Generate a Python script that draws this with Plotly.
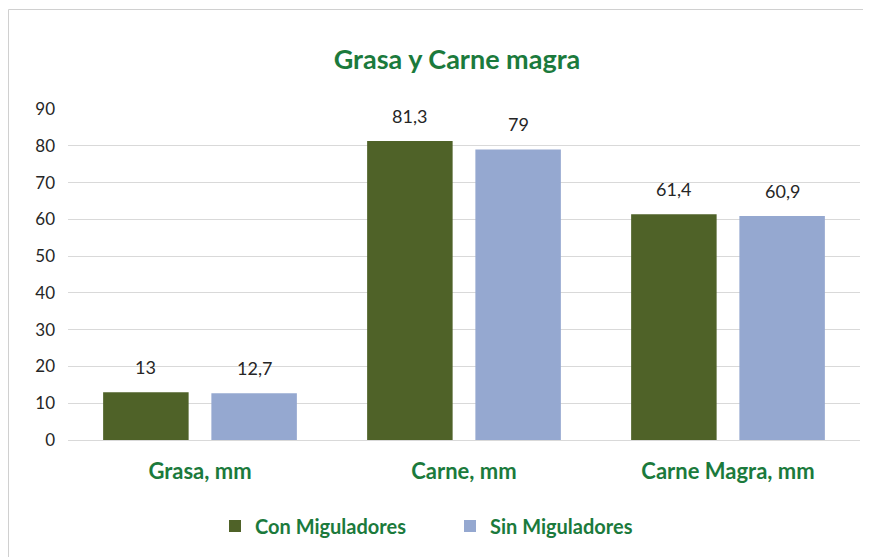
import plotly.graph_objects as go

categories = ["Grasa, mm", "Carne, mm", "Carne Magra, mm"]
series_names = ["Con Miguladores", "Sin Miguladores"]
con_values = [13, 81.3, 61.4]
sin_values = [12.7, 79, 60.9]
y_ticks = [0, 10, 20, 30, 40, 50, 60, 70, 80, 90]

GREEN = "#4F6228"
BLUE = "#95A8D0"
TITLE_GREEN = "#1B7A3C"
FONT = "Lato"

def fmt(v):
    s = ("%g" % v)
    return s.replace(".", ",")

# page has an 8px body margin; figure coordinates = screen - 8
OFF = 8
W, H = 871 - OFF, 557 - OFF
ml, mr, mt, mb = 68 - OFF, 11, 109 - OFF, 117
pw = W - ml - mr
ph = H - mt - mb

def px_x(sx):
    return (sx - OFF - ml) / pw

def px_y(sy):
    return (ph + mt - (sy - OFF)) / ph

fig = go.Figure()
for name, vals, col in [(series_names[0], con_values, GREEN), (series_names[1], sin_values, BLUE)]:
    fig.add_trace(go.Bar(
        x=categories, y=vals, name=name, marker=dict(color=col, line=dict(width=0)),
    ))

slot = pw / 3 * (1 - 0.18) / 2
for i, vals in enumerate([con_values, sin_values]):
    shift = -slot / 2 if i == 0 else slot / 2
    for c, v in zip(categories, vals):
        fig.add_annotation(x=c, y=v, xref="x", yref="y", text=fmt(v), showarrow=False,
                           xshift=shift, yshift=25, font=dict(family=FONT, size=18, color="#262626"))

fig.add_shape(type="rect", xref="paper", yref="paper",
              x0=px_x(8.5), x1=px_x(W + 40), y0=px_y(H + 40), y1=px_y(9.5),
              line=dict(color="#d0d0d0", width=1), layer="below")

fig.update_layout(
    width=W, height=H,
    margin=dict(l=ml, r=mr, t=mt, b=mb),
    paper_bgcolor="white", plot_bgcolor="white",
    title=dict(text="<b>Grasa y Carne magra</b>", x=(457 - OFF) / W, xanchor="center",
               y=1 - (60 - OFF) / H, yanchor="middle",
               font=dict(family=FONT, size=27, color=TITLE_GREEN)),
    barmode="group", bargap=0.18, bargroupgap=0.21,
    showlegend=True,
    legend=dict(orientation="h", x=px_x(450), xanchor="center", y=px_y(526), yanchor="middle",
                font=dict(family=FONT, size=20, color=TITLE_GREEN, weight="bold"),
                itemwidth=30, entrywidth=190, entrywidthmode="pixels"),
    xaxis=dict(tickfont=dict(family=FONT, size=22, color=TITLE_GREEN, weight="bold"),
               showline=False, ticks="", ticklabelstandoff=16),
    yaxis=dict(range=[0, 90], tickvals=y_ticks, showgrid=True, gridcolor="#d9d9d9", gridwidth=1,
               zeroline=True, zerolinecolor="#d9d9d9", zerolinewidth=1,
               tickfont=dict(family=FONT, size=17, color="#262626"), ticks="", ticklabelstandoff=12),
)

fig.write_html("out.html")
